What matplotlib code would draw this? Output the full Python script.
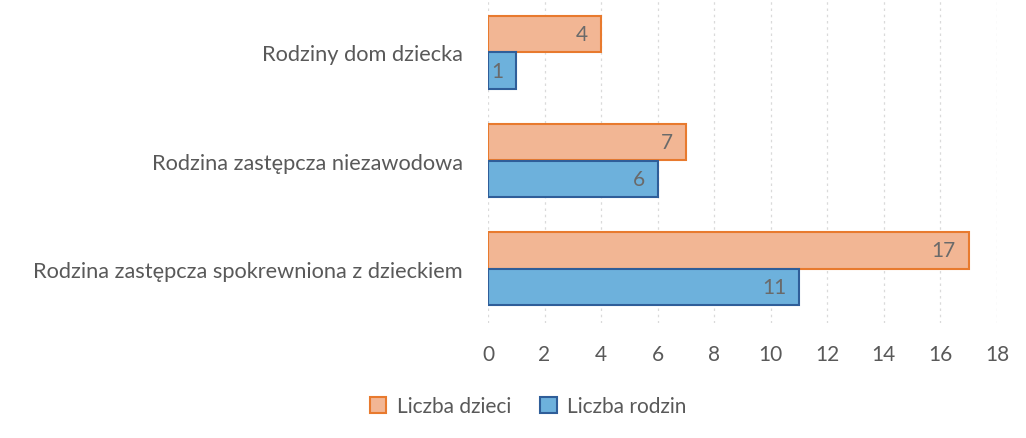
import matplotlib
matplotlib.use("Agg")
import matplotlib.pyplot as plt
import numpy as np

categories = ["Rodzina zastępcza spokrewniona z dzieckiem",
              "Rodzina zastępcza niezawodowa",
              "Rodziny dom dziecka"]
liczba_dzieci = [17, 7, 4]
liczba_rodzin = [11, 6, 1]
xticks = [0, 2, 4, 6, 8, 10, 12, 14, 16, 18]

plt.rcParams['font.family'] = ['Lato', 'DejaVu Sans']
TXT = '#595959'

fig = plt.figure(figsize=(10.26, 4.39), dpi=100)
ax = fig.add_axes([488/1026, 1 - 324/439, (997-488)/1026, 325/439])

y = np.arange(len(categories))
h = 0.335
off = 0.17
b1 = ax.barh(y + off, liczba_dzieci, height=h, color='#F2B694', edgecolor='#E87A2E',
             linewidth=1.5, label='Liczba dzieci', zorder=3)
b2 = ax.barh(y - off, liczba_rodzin, height=h, color='#6DB1DC', edgecolor='#2F5E99',
             linewidth=1.5, label='Liczba rodzin', zorder=3)

for bars, vals in ((b1, liczba_dzieci), (b2, liczba_rodzin)):
    for r, v in zip(bars, vals):
        ax.text(v - 0.45, r.get_y() + r.get_height()/2, str(v), ha='right', va='center',
                fontsize=15, color='#6A6A6A', zorder=4)

ax.set_xlim(0, 18)
ax.set_ylim(-0.5, 2.5)
ax.set_xticks(xticks)
ax.set_xticklabels([str(t) for t in xticks])
ax.set_yticks(y)
ax.set_yticklabels(categories)
ax.tick_params(axis='x', length=0, pad=15, labelsize=15, labelcolor=TXT)
ax.tick_params(axis='y', length=0, pad=18, labelsize=15.7, labelcolor=TXT)
for s in ax.spines.values():
    s.set_visible(False)
ax.grid(axis='x', color='#DADADA', linestyle=(0, (2, 3)), linewidth=0.9, zorder=0)

fig.legend(handles=[b1, b2], loc='center', bbox_to_anchor=(528/1026, 1 - 407/439),
           ncol=2, frameon=False, fontsize=15, labelcolor=TXT, handlelength=0.8,
           handleheight=0.8, handletextpad=0.5, columnspacing=1.4)

fig.savefig('out.png', dpi=100)
